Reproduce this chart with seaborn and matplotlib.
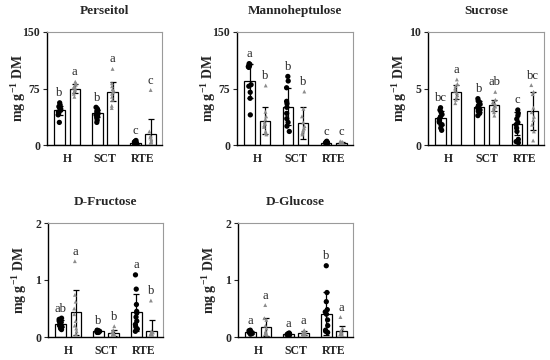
import numpy as np
import pandas as pd
import matplotlib
matplotlib.use("Agg")
import matplotlib.pyplot as plt
import seaborn as sns

groups = ["H", "SCT", "RTE"]
series = ["A", "B"]

# bar order: H-A, H-B, SCT-A, SCT-B, RTE-A, RTE-B
perseitol_mean = [46, 75, 42, 71, 3, 14]
perseitol_sd = [6, 6, 5, 13, 1.5, 20]
perseitol_pts = [
    [56, 53, 51, 50, 48, 46, 44, 42, 40, 30],
    [84, 82, 80, 78, 76, 75, 73, 71, 68, 64],
    [50, 48, 46, 44, 42, 41, 40, 38, 36, 33, 30],
    [101, 82, 78, 74, 72, 70, 68, 64, 60, 52, 49],
    [6, 5, 4, 4, 3, 3, 2, 2, 1, 1],
    [73, 18, 12, 10, 8, 6, 4, 3, 2, 1],
]
perseitol_letters = ["b", "a", "b", "a", "c", "c"]

manno_mean = [85, 32, 51, 29, 3, 3]
manno_sd = [22, 18, 25, 21, 1, 1]
manno_pts = [
    [108, 107, 106, 105, 104, 103, 80, 78, 70, 62, 40],
    [79, 44, 38, 34, 30, 28, 26, 24, 18, 16, 14],
    [91, 85, 76, 58, 55, 50, 42, 35, 30, 25, 18],
    [71, 48, 38, 30, 25, 22, 20, 18, 16, 14],
    [5, 4, 4, 3, 3, 3, 2, 2, 2],
    [5, 4, 4, 3, 3, 2, 2, 2, 1],
]
manno_letters = ["a", "b", "b", "b", "c", "c"]

sucrose_mean = [2.4, 4.7, 3.4, 3.5, 1.9, 3.0]
sucrose_sd = [0.6, 0.6, 0.5, 0.5, 1.0, 1.7]
sucrose_pts = [
    [3.3, 3.1, 2.9, 2.7, 2.5, 2.3, 2.1, 2.0, 1.8, 1.5, 1.3],
    [5.8, 5.4, 5.2, 5.0, 4.8, 4.6, 4.4, 4.2, 4.0, 3.7],
    [4.1, 3.9, 3.8, 3.6, 3.5, 3.3, 3.1, 3.0, 2.8, 2.6],
    [4.7, 4.0, 3.8, 3.7, 3.6, 3.4, 3.3, 3.1, 2.9, 2.6],
    [3.1, 2.8, 2.6, 2.3, 2.0, 1.8, 1.5, 1.2, 0.5, 0.3, 0.2],
    [5.3, 4.7, 4.5, 3.3, 2.9, 2.5, 2.2, 1.8, 1.2, 0.4],
]
sucrose_letters = ["bc", "a", "b", "ab", "c", "bc"]

fructose_mean = [0.23, 0.43, 0.10, 0.07, 0.43, 0.11]
fructose_sd = [0.06, 0.39, 0.02, 0.05, 0.32, 0.19]
fructose_pts = [
    [0.33, 0.31, 0.28, 0.26, 0.24, 0.22, 0.20, 0.18, 0.15, 0.13],
    [1.33, 0.74, 0.62, 0.50, 0.40, 0.28, 0.20, 0.15, 0.10, 0.05],
    [0.12, 0.11, 0.11, 0.10, 0.10, 0.09, 0.09, 0.08, 0.08],
    [0.19, 0.12, 0.09, 0.07, 0.06, 0.05, 0.04, 0.03, 0.02],
    [1.09, 0.84, 0.57, 0.45, 0.42, 0.35, 0.28, 0.22, 0.18, 0.14, 0.10],
    [0.64, 0.10, 0.08, 0.06, 0.05, 0.04, 0.03, 0.02, 0.02],
]
fructose_letters = ["ab", "a", "b", "b", "a", "b"]

glucose_mean = [0.08, 0.18, 0.05, 0.07, 0.41, 0.10]
glucose_sd = [0.02, 0.16, 0.01, 0.03, 0.38, 0.10]
glucose_pts = [
    [0.12, 0.11, 0.10, 0.09, 0.08, 0.08, 0.07, 0.06, 0.05],
    [0.56, 0.33, 0.30, 0.20, 0.15, 0.10, 0.08, 0.06, 0.05, 0.04],
    [0.07, 0.06, 0.06, 0.05, 0.05, 0.05, 0.04, 0.04, 0.03],
    [0.12, 0.10, 0.09, 0.07, 0.06, 0.05, 0.05, 0.04],
    [1.25, 0.78, 0.62, 0.48, 0.44, 0.40, 0.30, 0.20, 0.12, 0.10, 0.08],
    [0.35, 0.15, 0.10, 0.08, 0.06, 0.05, 0.04, 0.03],
]
glucose_letters = ["a", "a", "a", "a", "b", "a"]

titles = ["Perseitol", "Mannoheptulose", "Sucrose", "D-Fructose", "D-Glucose"]
yticks = [[0, 75, 150], [0, 75, 150], [0, 5, 10], [0, 1, 2], [0, 1, 2]]

sns.set_style("ticks")
plt.rcParams["font.family"] = ["Liberation Serif", "DejaVu Serif"]
plt.rcParams["font.weight"] = "bold"
plt.rcParams["mathtext.fontset"] = "custom"
plt.rcParams["mathtext.rm"] = "Liberation Serif:bold"
plt.rcParams["mathtext.default"] = "rm"

np.random.seed(3)


def bar_frame(values):
    return pd.DataFrame({
        "group": [groups[i // 2] for i in range(len(values))],
        "s": [series[i % 2] for i in range(len(values))],
        "value": values,
    })


def point_frame(pts):
    rows = []
    for i, vals in enumerate(pts):
        for v in vals:
            rows.append((groups[i // 2], series[i % 2], v))
    return pd.DataFrame(rows, columns=["group", "s", "value"])


def draw(ax, title, means, sds, pts, letters, ticks):
    sns.barplot(data=bar_frame(means), x="group", y="value", hue="s",
                order=groups, hue_order=series,
                palette={"A": "white", "B": "white"}, edgecolor="black",
                linewidth=0.9, width=0.8, gap=0.32, errorbar=None,
                legend=False, ax=ax, zorder=2)
    patches = sorted(ax.patches, key=lambda p: p.get_x())
    xs = [p.get_x() + p.get_width() / 2 for p in patches]
    ax.errorbar(xs, means, yerr=sds, fmt="none", ecolor="black",
                elinewidth=0.9, capsize=2.2, capthick=0.9, zorder=3)

    pdf = point_frame(pts)
    for s, marker, color, size in [("A", "o", "black", 3.8),
                                   ("B", "^", "#8c8c8c", 2.8)]:
        sns.stripplot(data=pdf[pdf.s == s], x="group", y="value", hue="s",
                      order=groups, hue_order=series,
                      palette={"A": color, "B": color}, dodge=True,
                      jitter=0.08, marker=marker, size=size, linewidth=0,
                      legend=False, ax=ax, zorder=4)

    for i, letter in enumerate(letters):
        top = max(max(pts[i]), means[i] + sds[i])
        ax.annotate(letter, (xs[i], top), xytext=(0, 2.5),
                    textcoords="offset points", ha="center", va="bottom",
                    fontsize=9, fontweight="normal")

    ax.set_xlim(-0.53, 2.5)
    ax.set_ylim(ticks[0], ticks[-1])
    ax.set_yticks(ticks)
    ax.set_xlabel("")
    ax.set_ylabel(r"mg g$^{-1}$ DM", fontsize=10, fontweight="bold")
    ax.yaxis.set_label_coords(-0.165, 0.5)
    ax.set_title(title, fontsize=9.5, fontweight="bold", pad=13)
    ax.tick_params(axis="y", length=3, width=0.8, labelsize=8.5, pad=2)
    ax.tick_params(axis="x", length=0, labelsize=8.5, pad=6)
    for side in ["top", "right"]:
        ax.spines[side].set_visible(True)
        ax.spines[side].set_color("#9a9a9a")
        ax.spines[side].set_linewidth(0.8)
    for side in ["left", "bottom"]:
        ax.spines[side].set_color("black")
        ax.spines[side].set_linewidth(1.0)


fig = plt.figure(figsize=(5.5, 3.6), dpi=100)
W, H = 550, 360
boxes = [(47, 32, 115, 113), (237, 32, 116, 113), (428, 32, 116, 113),
         (48, 223, 115, 114), (238, 223, 115, 114)]
axes = [fig.add_axes([l / W, 1 - (t + h) / H, w / W, h / H]) for l, t, w, h in boxes]

draw(axes[0], titles[0], perseitol_mean, perseitol_sd, perseitol_pts, perseitol_letters, yticks[0])
draw(axes[1], titles[1], manno_mean, manno_sd, manno_pts, manno_letters, yticks[1])
draw(axes[2], titles[2], sucrose_mean, sucrose_sd, sucrose_pts, sucrose_letters, yticks[2])
draw(axes[3], titles[3], fructose_mean, fructose_sd, fructose_pts, fructose_letters, yticks[3])
draw(axes[4], titles[4], glucose_mean, glucose_sd, glucose_pts, glucose_letters, yticks[4])

fig.savefig("out.png", dpi=100)
